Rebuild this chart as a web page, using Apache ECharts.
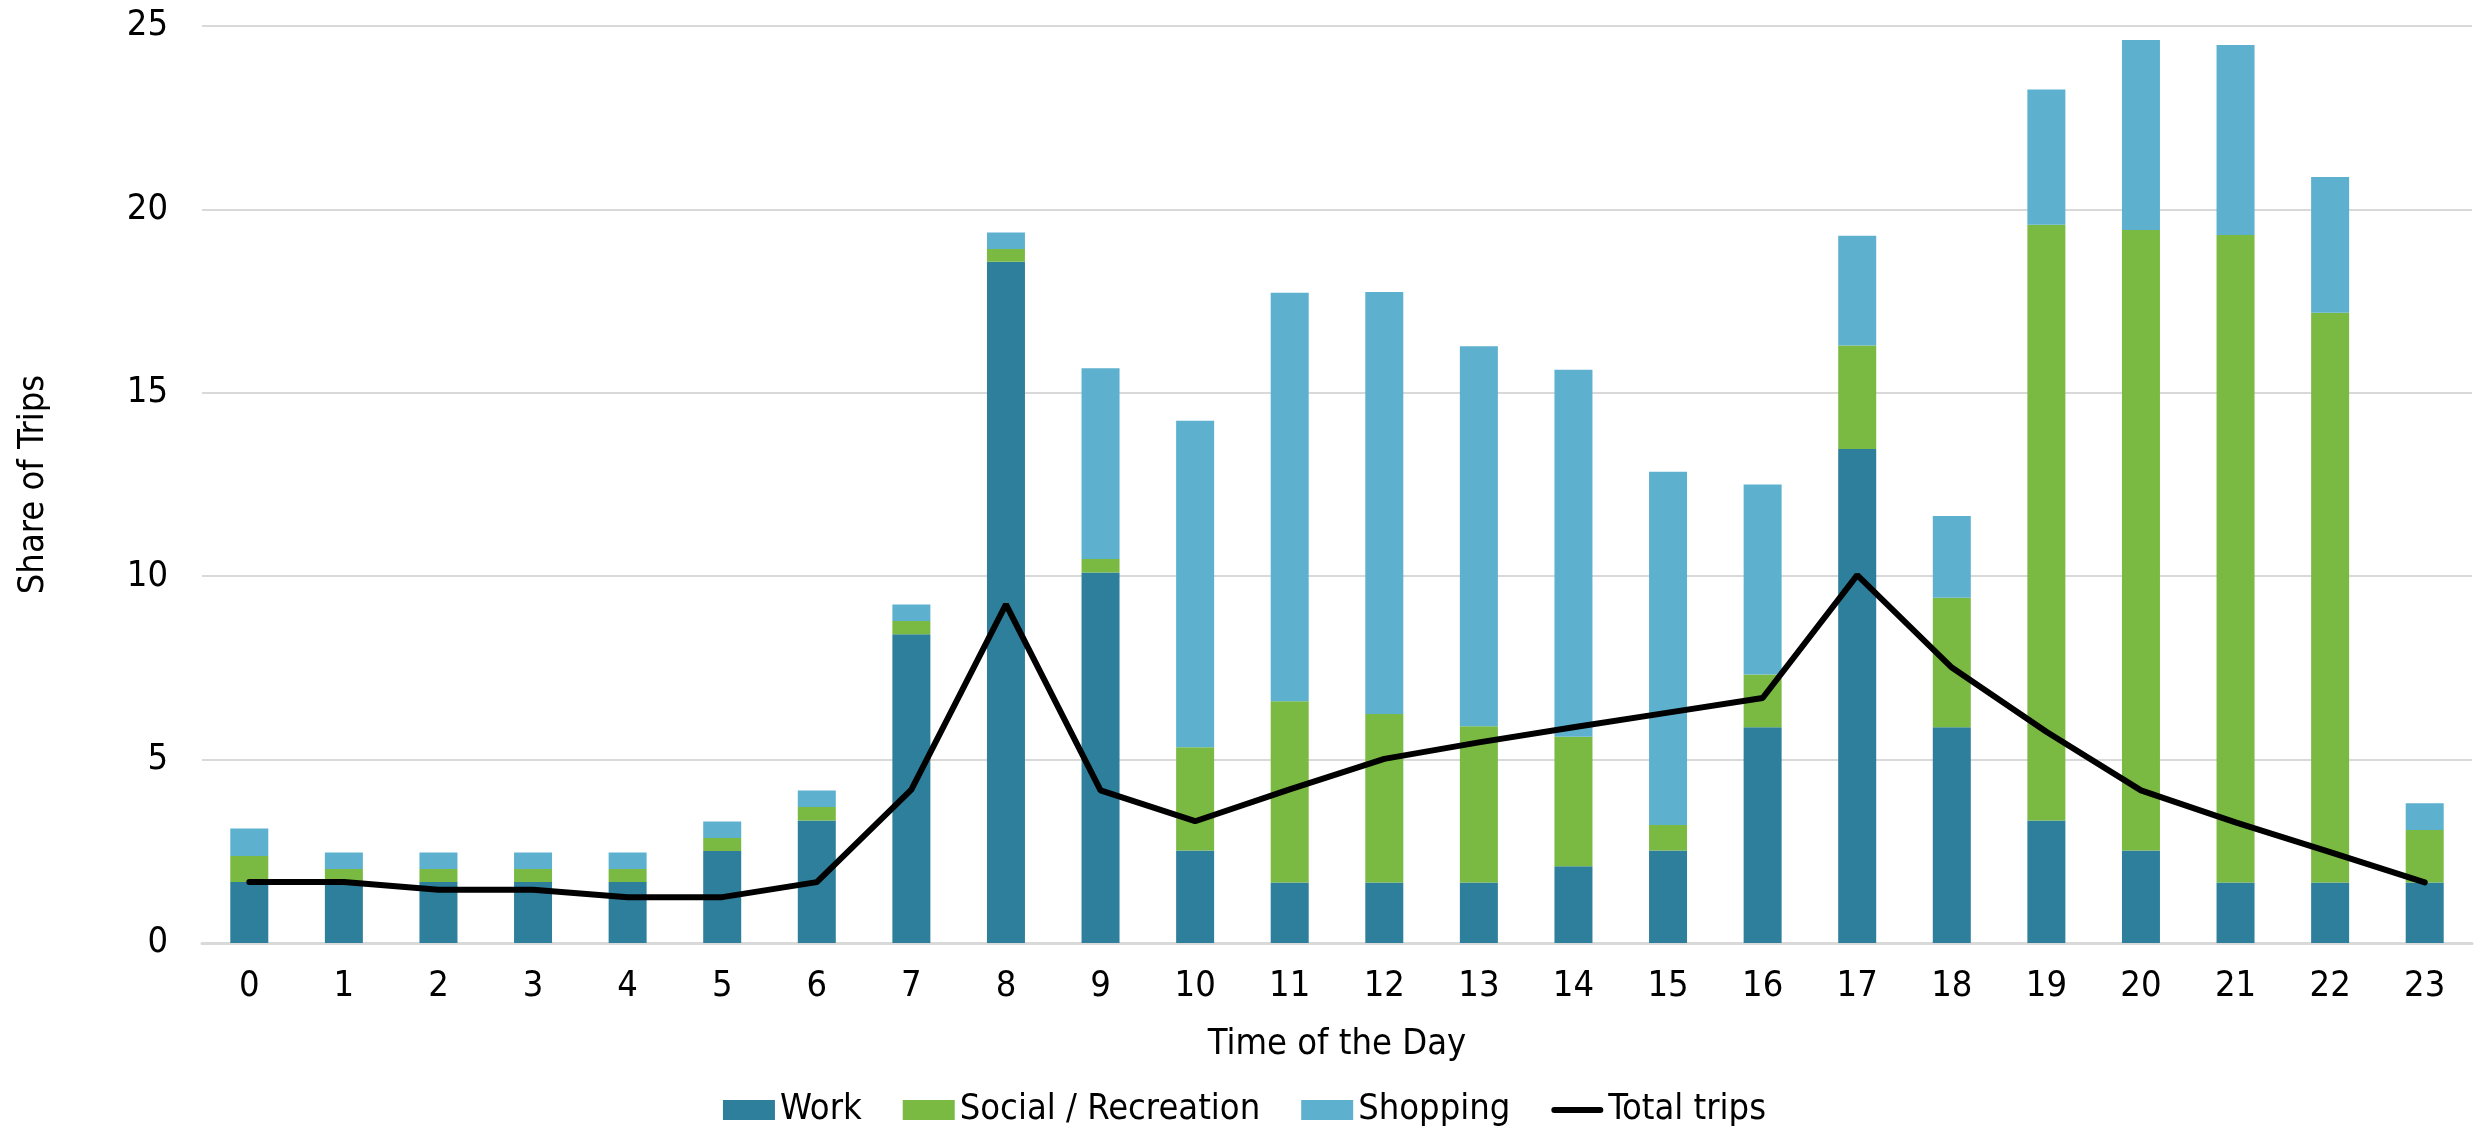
<!DOCTYPE html>
<html>
<head>
<meta charset="utf-8">
<script src="https://cdn.jsdelivr.net/npm/echarts@6/dist/echarts.min.js"></script>
<style>
html,body{margin:0;padding:0;background:#fff;}
#chart{width:2489px;height:1128px;}
</style>
</head>
<body>
<div id="chart"></div>
<script>
const hours = ['0','1','2','3','4','5','6','7','8','9','10','11','12','13','14','15','16','17','18','19','20','21','22','23'];
const work = [1.66,1.66,1.66,1.66,1.66,2.51,3.34,8.42,18.57,10.10,2.52,1.65,1.65,1.65,2.09,2.52,5.88,13.47,5.88,3.34,2.52,1.65,1.65,1.65];
const social = [0.71,0.36,0.36,0.36,0.36,0.35,0.37,0.36,0.35,0.37,2.82,4.94,4.59,4.26,3.53,0.70,1.44,2.82,3.53,16.24,16.92,17.65,15.53,1.43];
const shopping = [0.75,0.45,0.45,0.45,0.45,0.45,0.45,0.45,0.45,5.20,8.90,11.14,11.51,10.36,10.01,9.63,5.18,2.99,2.23,3.69,5.18,5.18,3.70,0.73];
const totalTrips = [1.66,1.66,1.45,1.45,1.25,1.25,1.66,4.18,9.23,4.16,3.32,4.19,5.02,5.47,5.88,6.28,6.68,10.03,7.51,5.76,4.16,3.29,2.48,1.65];
const yTicks = {min:0, max:25, interval:5};

const FONT = "'Liberation Sans Narrow','Arial Narrow','DejaVu Sans Condensed',sans-serif";
const FS = 36;
const chart = echarts.init(document.getElementById('chart'));
chart.setOption({
  animation:false,
  backgroundColor:'#ffffff',
  textStyle:{fontFamily:FONT},
  grid:{left:202,right:17,top:26,bottom:185,containLabel:false},
  legend:{
    bottom:-5, left:'center',
    itemWidth:52, itemHeight:20, itemGap:41,
    textStyle:{fontFamily:FONT,fontSize:FS,color:'#000'},
    data:[
      {name:'Work',icon:'rect'},
      {name:'Social / Recreation',icon:'rect'},
      {name:'Shopping',icon:'rect'},
      {name:'Total trips',icon:'path://M3,0 L49,0 A3,3 0 0 1 49,6 L3,6 A3,3 0 0 1 3,0 Z'}
    ]
  },
  xAxis:{
    type:'category', data:hours,
    name:'Time of the Day', nameLocation:'middle', nameGap:84,
    nameTextStyle:{fontFamily:FONT,fontSize:FS,color:'#000'},
    axisLine:{lineStyle:{color:'#d9d9d9',width:3}},
    axisTick:{show:false},
    axisLabel:{fontFamily:FONT,fontSize:FS,color:'#000',margin:26}
  },
  yAxis:{
    type:'value', min:yTicks.min, max:yTicks.max, interval:yTicks.interval,
    name:'Share of Trips', nameLocation:'middle', nameGap:150,
    nameTextStyle:{fontFamily:FONT,fontSize:FS,color:'#000'},
    axisLine:{show:false}, axisTick:{show:false},
    axisLabel:{fontFamily:FONT,fontSize:FS,color:'#000',margin:34},
    splitLine:{lineStyle:{color:'#d9d9d9',width:2}}
  },
  series:[
    {name:'Work',type:'bar',stack:'a',barWidth:38,data:work,itemStyle:{color:'#2e7f9b'}},
    {name:'Social / Recreation',type:'bar',stack:'a',barWidth:38,data:social,itemStyle:{color:'#7aba42'}},
    {name:'Shopping',type:'bar',stack:'a',barWidth:38,data:shopping,itemStyle:{color:'#5db1cf'}},
    {name:'Total trips',type:'line',data:totalTrips,symbol:'none',z:5,
     lineStyle:{color:'#000',width:6,cap:'round'},itemStyle:{color:'#000'}}
  ]
});
</script>
</body>
</html>
